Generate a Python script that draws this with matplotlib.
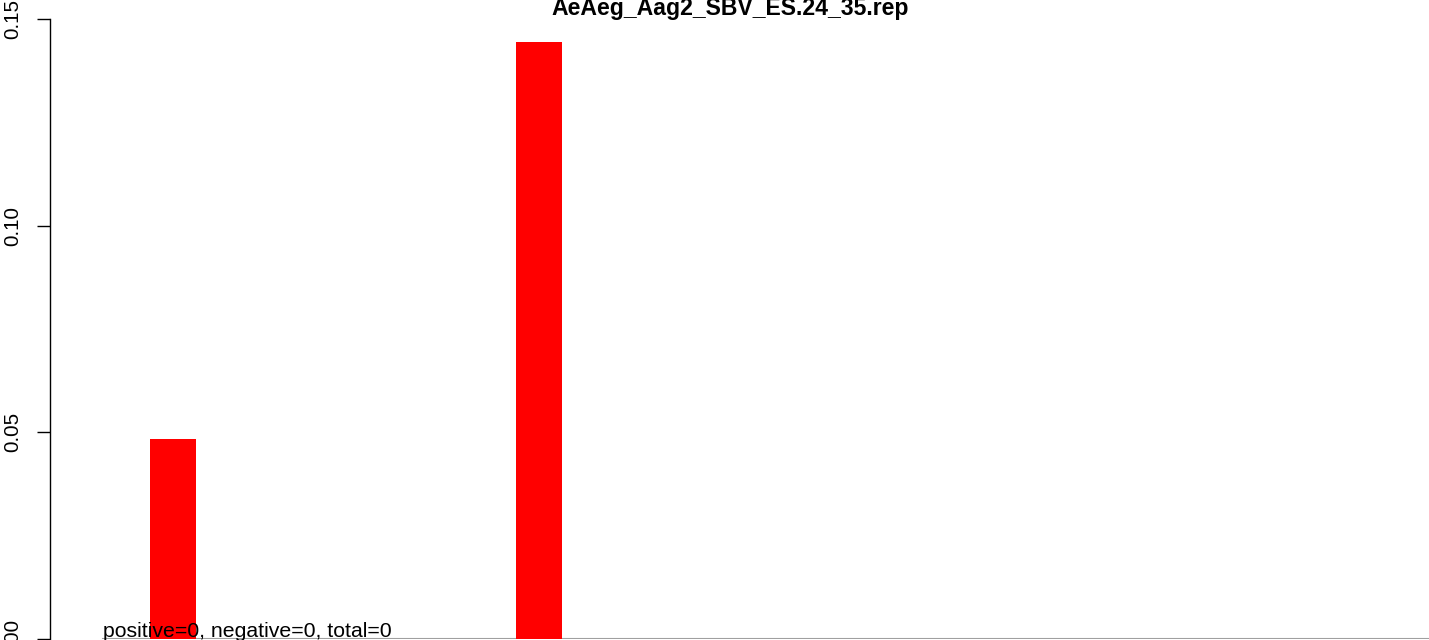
import matplotlib
matplotlib.use("Agg")
import matplotlib.pyplot as plt

# ---- data ----
bar_positions = [3, 11]          # category slots along the x axis
bar_values = [0.0483, 0.1445]    # bar heights
y_ticks = [0.00, 0.05, 0.10, 0.15]
y_tick_labels = ["0.00", "0.05", "0.10", "0.15"]
title = "AeAeg_Aag2_SBV_ES.24_35.rep"
note = "positive=0, negative=0, total=0"

plt.rcParams['font.family'] = ['Liberation Sans', 'DejaVu Sans']

W, H = 1429, 640
fig = plt.figure(figsize=(W / 100, H / 100), dpi=100)
ax_left = 50 / W
ax_bottom = 1 / H
ax_top = 621 / H
ax = fig.add_axes([ax_left, ax_bottom, 1 - ax_left, ax_top - ax_bottom])

ax.bar(bar_positions, bar_values, width=1.0, color="#ff0000", zorder=2)

ax.set_xlim(0.315, 30.457)
ax.set_ylim(0, 0.15)

# grey baseline starting near the note text
ax.axhline(0, xmin=(103 - 50) / (W - 50), xmax=1.0, color="#a0a0a0", lw=1.5, zorder=1)

ax.text(1.475, 0.0005, note, fontsize=15.3, ha="left", va="baseline", zorder=3)

for s in ["top", "right", "bottom"]:
    ax.spines[s].set_visible(False)
ax.spines["left"].set_linewidth(1.0)
ax.spines["left"].set_bounds(0, 0.15)
ax.set_xticks([])
ax.set_yticks(y_ticks)
ax.set_yticklabels(y_tick_labels, rotation=90, va="center", fontsize=14.8)
ax.tick_params(axis="y", length=9.4, width=1.0, pad=10.5)
for lbl in ax.get_yticklabels():
    lbl.set_clip_on(False)

fig.text(730 / W, 1 - 15.5 / H, title, ha="center", va="baseline",
         fontsize=16.6, fontweight="bold")

fig.savefig("out.png", dpi=100)
